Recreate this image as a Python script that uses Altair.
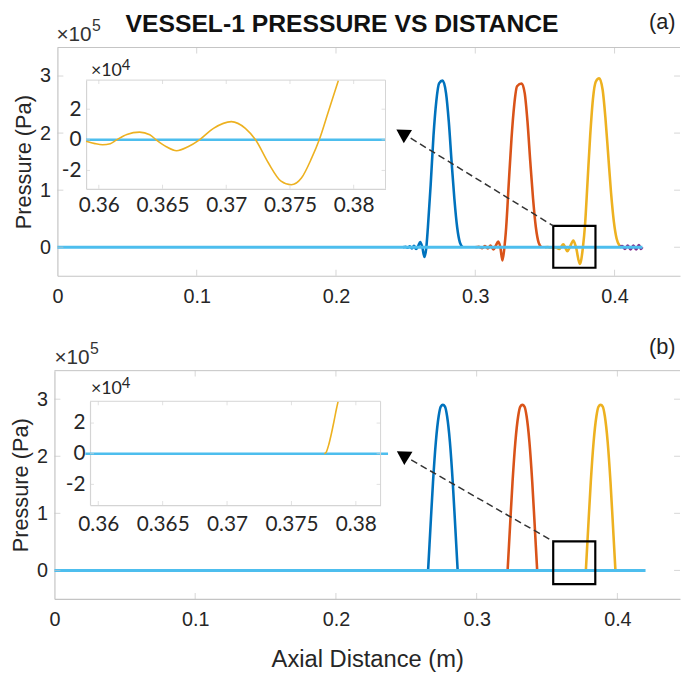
import altair as alt
import pandas as pd

# ---------------- data ----------------
# Panel (a) main: axial distance (m) vs pressure (x1e5 Pa)
a_blue_x = [0.2480, 0.2500, 0.2515, 0.2530, 0.2545, 0.2560, 0.2575, 0.2590, 0.2605, 0.2620,
            0.2635, 0.2648, 0.2660, 0.2680, 0.2700, 0.2720, 0.2740, 0.2765, 0.2790, 0.2810,
            0.2830, 0.2850, 0.2870, 0.2890, 0.2910]
a_blue_y = [0.000, 0.010, -0.010, 0.015, -0.020, 0.025, -0.030, 0.020, 0.090, 0.000,
            -0.170, -0.020, 0.350, 1.100, 1.950, 2.550, 2.870, 2.920, 2.700, 2.200,
            1.500, 0.850, 0.350, 0.080, 0.000]
a_red_x = [0.3000, 0.3025, 0.3050, 0.3070, 0.3090, 0.3110, 0.3130, 0.3148, 0.3165, 0.3180,
           0.3195, 0.3208, 0.3222, 0.3240, 0.3260, 0.3280, 0.3300, 0.3333, 0.3355, 0.3375,
           0.3395, 0.3415, 0.3435, 0.3455, 0.3475]
a_red_y = [0.000, 0.010, -0.015, 0.020, -0.020, 0.030, -0.040, 0.030, 0.100, 0.000,
           -0.230, -0.030, 0.350, 1.100, 1.900, 2.500, 2.820, 2.870, 2.700, 2.200,
           1.500, 0.850, 0.350, 0.080, 0.000]
a_yel_x = [0.3500, 0.3520, 0.3540, 0.3560, 0.3580, 0.3603, 0.3614, 0.3632, 0.3645, 0.3661,
           0.3679, 0.3704, 0.3723, 0.3751, 0.3773, 0.3788, 0.3805, 0.3825, 0.3845, 0.3865,
           0.3890, 0.3915, 0.3935, 0.3955, 0.3975, 0.3995, 0.4015, 0.4035, 0.4050]
a_yel_y = [0.000, 0.004, -0.004, 0.005, -0.006, -0.032, 0.000, 0.050, 0.000, -0.071,
           0.000, 0.119, 0.000, -0.294, 0.000, 0.390, 1.100, 1.950, 2.600, 2.900,
           2.960, 2.750, 2.250, 1.600, 0.950, 0.450, 0.150, 0.030, 0.000]
a_pur_x = [0.4035, 0.4055, 0.4075, 0.4095, 0.4115, 0.4135, 0.4155, 0.4175, 0.4190, 0.4200]
a_pur_y = [0.000, 0.020, -0.030, 0.030, -0.040, 0.030, -0.040, 0.040, -0.030, 0.000]
cyan_x = [0.0, 0.42]
cyan_y = [0.0, 0.0]

# Panel (a) inset: pressure (x1e4 Pa)
ai_yel_x = [0.3590, 0.3597, 0.3603, 0.3609, 0.3614, 0.3622, 0.3632, 0.3640, 0.3645, 0.3653,
            0.3661, 0.3670, 0.3679, 0.3690, 0.3704, 0.3715, 0.3723, 0.3733, 0.3743, 0.3751,
            0.3759, 0.3767, 0.3773, 0.3780, 0.3788]
ai_yel_y = [-0.10, -0.25, -0.32, -0.25, 0.00, 0.35, 0.50, 0.33, 0.00, -0.45,
            -0.71, -0.45, 0.00, 0.75, 1.19, 0.75, 0.00, -1.50, -2.70, -2.94,
            -2.50, -1.20, 0.00, 1.80, 3.87]
inset_cyan_x = [0.359, 0.3825]
inset_cyan_y = [0.0, 0.0]

# Panel (b) main (x1e5 Pa)
b_blue_x = [0.2655, 0.2665, 0.2675, 0.2690, 0.2710, 0.2730, 0.2745, 0.2760, 0.2775, 0.2790,
            0.2810, 0.2830, 0.2845, 0.2855, 0.2865]
b_blue_y = [0.00, 0.45, 0.90, 1.55, 2.25, 2.70, 2.87, 2.90, 2.87, 2.70, 2.25, 1.55, 0.90, 0.45, 0.00]
b_red_x = [0.3220, 0.3230, 0.3240, 0.3255, 0.3275, 0.3295, 0.3310, 0.3325, 0.3340, 0.3355,
           0.3375, 0.3395, 0.3410, 0.3420, 0.3430]
b_red_y = [0.00, 0.45, 0.90, 1.55, 2.25, 2.70, 2.87, 2.90, 2.87, 2.70, 2.25, 1.55, 0.90, 0.45, 0.00]
b_yel_x = [0.3776, 0.3786, 0.3796, 0.3811, 0.3831, 0.3851, 0.3866, 0.3881, 0.3896, 0.3911,
           0.3931, 0.3951, 0.3966, 0.3976, 0.3986]
b_yel_y = [0.00, 0.45, 0.90, 1.55, 2.25, 2.70, 2.87, 2.90, 2.87, 2.70, 2.25, 1.55, 0.90, 0.45, 0.00]

# Panel (b) inset (x1e4 Pa)
bi_yel_x = [0.37756, 0.3777, 0.3779, 0.3781, 0.3783, 0.3785, 0.37862]
bi_yel_y = [0.00, 0.10, 0.60, 1.30, 2.10, 2.95, 3.40]

# zoom boxes and arrows (data coordinates of each main panel)
a_box = [0.3560, 0.3863, -0.36, 0.375]
a_arrow_x = [0.3560, 0.2470]
a_arrow_y = [0.375, 2.01]
a_head = [0.2475, 2.000]
b_box = [0.3544, 0.3843, -0.24, 0.51]
b_arrow_x = [0.3544, 0.2468]
b_arrow_y = [0.51, 2.03]
b_head = [0.2474, 2.025]

main_xticks = [0, 0.1, 0.2, 0.3, 0.4]
main_yticks = [0, 1, 2, 3]
inset_xticks = [0.36, 0.365, 0.37, 0.375, 0.38]
inset_yticks = [-2, 0, 2]

# ---------------- style / layout ----------------
PW, PH = 632, 558
FONT = "Liberation Sans"
IFONT = "Lato"
TXT = "#262626"
AXG = "#c4c4c4"
IAXG = "#d4d4d4"
BLUE, RED, YEL, PUR, CYAN = "#0072BD", "#D95319", "#EDB120", "#7E2F8E", "#4DBEEE"
MINUS_FIX = "replace(datum.label, '\u2212', '-')"


def xy(xs, ys):
    return pd.DataFrame({"x": xs, "y": ys})


def one():
    return pd.DataFrame({"k": [0]})


def label(s, px, py, size, font=FONT, weight="normal", align="left", color=TXT):
    return alt.Chart(one()).mark_text(
        text=s, font=font, fontSize=size, fontWeight=weight, align=align,
        baseline="middle", color=color
    ).encode(x=alt.value(px), y=alt.value(py))


def make_xy(xdom, xrng, ydom, yrng, xaxis, yaxis, xtitle, ytitle):
    X = alt.X("x:Q", scale=alt.Scale(domain=xdom, range=xrng, nice=False, zero=False),
              axis=xaxis, title=xtitle)
    Y = alt.Y("y:Q", scale=alt.Scale(domain=ydom, range=yrng, nice=False, zero=False),
              axis=yaxis, title=ytitle)
    return X, Y


def line(X, Y, xs, ys, color, width, interp="monotone"):
    return alt.Chart(xy(xs, ys)).mark_line(
        color=color, strokeWidth=width, interpolate=interp
    ).encode(x=X, y=Y)


def ticks_x(X, Y, vals, yv, off, size, color):
    return alt.Chart(xy(vals, [yv] * len(vals))).mark_tick(
        orient="vertical", size=size, thickness=1, yOffset=off, color=color
    ).encode(x=X, y=Y)


def ticks_y(X, Y, vals, xv, off, size, color):
    return alt.Chart(xy([xv] * len(vals), vals)).mark_tick(
        orient="horizontal", size=size, thickness=1, xOffset=off, color=color
    ).encode(x=X, y=Y)


def edge(X, Y, x1, x2, y1, y2, color):
    d = pd.DataFrame({"x": [x1], "x2": [x2], "y": [y1], "y2": [y2]})
    return alt.Chart(d).mark_rule(color=color, strokeWidth=1).encode(
        x=X, x2=alt.X2("x2"), y=Y, y2=alt.Y2("y2"))


def main_axes(offset_x, offset_y):
    xa = alt.Axis(orient="bottom", offset=offset_x, values=main_xticks, format="~g",
                  tickSize=0, labelPadding=11, labelFontSize=20, labelFont=FONT,
                  labelColor=TXT, domainColor=AXG, domainWidth=1.2, grid=False,
                  labelFlush=False, labelOverlap=False, titleFont=FONT, titleFontSize=24,
                  titleFontWeight="normal", titleColor=TXT, titlePadding=18)
    ya = alt.Axis(orient="left", offset=offset_y, values=main_yticks, format="d",
                  tickSize=0, labelPadding=7, labelFontSize=20, labelFont=FONT,
                  labelColor=TXT, domainColor=AXG, domainWidth=1.2, grid=False,
                  labelOverlap=False, titleFont=FONT, titleFontSize=22,
                  titleFontWeight="normal", titleColor=TXT, titlePadding=4)
    return xa, ya


def inset_axes(offset_x, offset_y, lpad):
    xa = alt.Axis(orient="bottom", offset=offset_x, values=inset_xticks, format="~g",
                  tickSize=0, labelPadding=lpad, labelFontSize=21, labelFont=IFONT,
                  labelColor=TXT, domainColor=IAXG, domainWidth=1.2, grid=False,
                  labelFlush=False, labelOverlap=False)
    ya = alt.Axis(orient="left", offset=offset_y, values=inset_yticks, format="d",
                  labelExpr=MINUS_FIX, tickSize=0, labelPadding=5, labelFontSize=21,
                  labelFont=IFONT, labelColor=TXT, domainColor=IAXG, domainWidth=1.2,
                  grid=False, labelOverlap=False)
    return xa, ya


def main_panel(xdom, xrng, yrng, offx, offy, xtitle, series, box, ax, ay, head,
               tag, tag_pos, ten_pos, extra=None):
    xa, ya = main_axes(offx, offy)
    X, Y = make_xy(xdom, xrng, [-0.5, 3.5], yrng, xa, ya, xtitle, "Pressure (Pa)")
    layers = []
    for xs, ys, c in series:
        layers.append(line(X, Y, xs, ys, c, 2.6))
    layers.append(line(X, Y, cyan_x, cyan_y, CYAN, 3, "linear"))
    # frame: top edge + inward ticks
    layers.append(edge(X, Y, xdom[0], xdom[1], 3.5, 3.5, AXG))
    layers.append(ticks_x(X, Y, main_xticks[1:], -0.5, -3, 6, AXG))
    layers.append(ticks_x(X, Y, main_xticks[1:], 3.5, 3, 6, AXG))
    layers.append(ticks_y(X, Y, main_yticks, xdom[0], 3, 6, AXG))
    layers.append(ticks_y(X, Y, main_yticks, xdom[1], -3, 6, AXG))
    # zoom box, dashed arrow, arrow head
    bd = pd.DataFrame({"x": [box[0]], "x2": [box[1]], "y": [box[2]], "y2": [box[3]]})
    layers.append(alt.Chart(bd).mark_rect(fillOpacity=0, stroke="black", strokeWidth=2.2)
                  .encode(x=X, x2=alt.X2("x2"), y=Y, y2=alt.Y2("y2")))
    layers.append(alt.Chart(xy(ax, ay)).mark_line(color="#333333", strokeWidth=1.5,
                                                  strokeDash=[7, 4]).encode(x=X, y=Y))
    layers.append(alt.Chart(xy([head[0]], [head[1]])).mark_point(
        shape="triangle-up", filled=True, size=250, angle=301.6, color="black", opacity=1
    ).encode(x=X, y=Y))
    # texts
    layers.append(label("\u00d710", ten_pos[0], ten_pos[1], 21, color="#333333"))
    layers.append(label("5", ten_pos[0] + 36, ten_pos[1] - 9, 16, color="#333333"))
    layers.append(label(tag, tag_pos[0], tag_pos[1], 22, align="center", color="#222222"))
    if extra is not None:
        layers.extend(extra)
    return alt.layer(*layers)


def inset_panel(xdom, xrng, ydom, yrng, offx, offy, lpad, yel_x, yel_y, ten_pos):
    xa, ya = inset_axes(offx, offy, lpad)
    X, Y = make_xy(xdom, xrng, ydom, yrng, xa, ya, "", "")
    layers = [
        line(X, Y, inset_cyan_x, inset_cyan_y, CYAN, 2.6, "linear"),
        line(X, Y, yel_x, yel_y, YEL, 1.6),
        edge(X, Y, xdom[0], xdom[1], ydom[1], ydom[1], IAXG),
        edge(X, Y, xdom[1], xdom[1], ydom[0], ydom[1], IAXG),
        ticks_x(X, Y, inset_xticks, ydom[0], -2, 4, IAXG),
        ticks_x(X, Y, inset_xticks, ydom[1], 2, 4, IAXG),
        ticks_y(X, Y, inset_yticks, xdom[0], 2, 4, IAXG),
        ticks_y(X, Y, inset_yticks, xdom[1], -2, 4, IAXG),
        label("\u00d710", ten_pos[0], ten_pos[1], 18, font=IFONT),
        label("4", ten_pos[0] + 31, ten_pos[1] - 6, 15, font=IFONT),
    ]
    return alt.layer(*layers)


title_layer = label("VESSEL-1 PRESSURE VS DISTANCE", 290, -24, 25, weight="bold",
                    align="center", color="#111111")

gA = main_panel([0, 0.447], [2, 632], [231, 0], -327, -2, "",
                [(a_blue_x, a_blue_y, BLUE), (a_red_x, a_red_y, RED),
                 (a_yel_x, a_yel_y, YEL), (a_pur_x, a_pur_y, PUR)],
                a_box, a_arrow_x, a_arrow_y, a_head, "(a)", (614, -26), (1, -13),
                extra=[title_layer])
gB = inset_panel([0.359, 0.3825], [31, 334], [-3.2, 3.9], [143, 33], -415, -31, 6,
                 ai_yel_x, ai_yel_y, (36, 24))
gC = main_panel([0, 0.4445], [-1, 632], [558, 327], 0, 1, "Axial Distance (m)",
                [(b_blue_x, b_blue_y, BLUE), (b_red_x, b_red_y, RED),
                 (b_yel_x, b_yel_y, YEL)],
                b_box, b_arrow_x, b_arrow_y, b_head, "(b)", (614, 303), (-1, 314))
gD = inset_panel([0.35936, 0.38192], [35, 329], [-3.35, 3.42], [463, 358], -95, -35, 9,
                 bi_yel_x, bi_yel_y, (36, 346))

chart = alt.layer(gA, gB, gC, gD).resolve_scale(
    x="independent", y="independent"
).properties(
    width=PW, height=PH,
    autosize=alt.AutoSizeParams(type="none"),
    padding={"left": 48, "top": 36, "right": 1, "bottom": 72},
).configure_view(strokeWidth=0)

chart.save("out.html", embed_options={"renderer": "svg", "actions": False})
